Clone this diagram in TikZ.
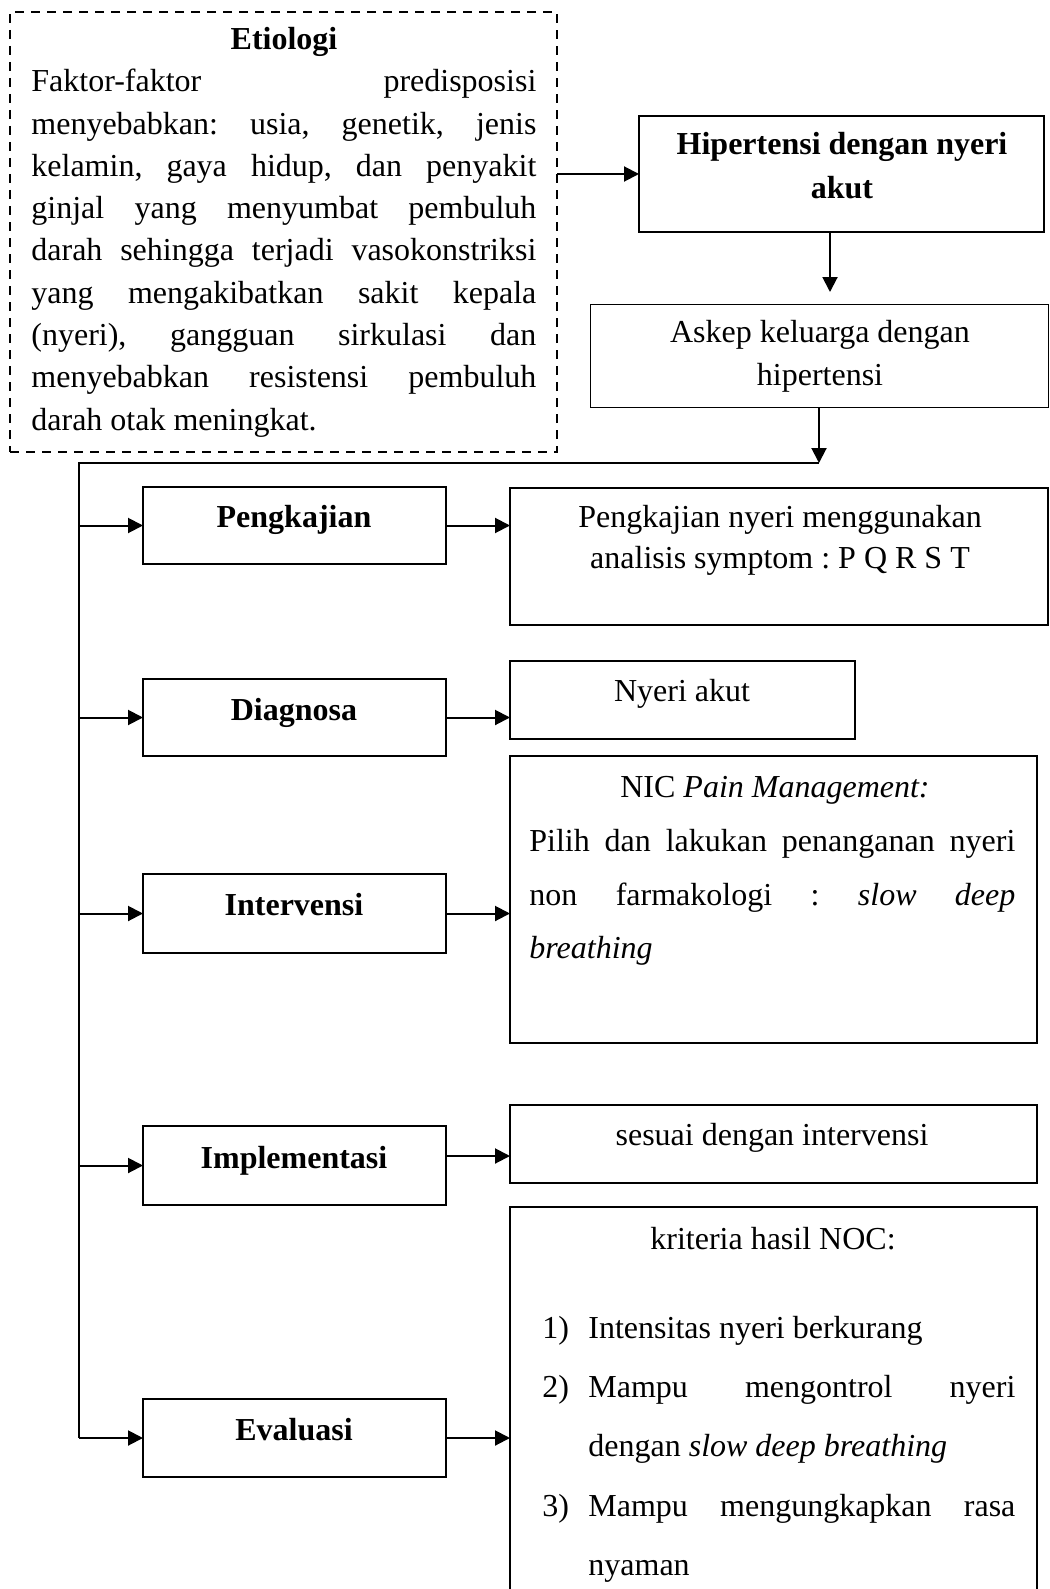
\documentclass[tikz,border=0pt]{standalone}
\usepackage{fontspec}
\setmainfont{Liberation Serif}
\usetikzlibrary{arrows.meta,calc}
\frenchspacing
\begin{document}
\begin{tikzpicture}[x=0.5pt,y=-0.5pt,
  every node/.style={font=\fontsize{16pt}{20pt}\selectfont},
  boxline/.style={draw, line width=1pt, inner sep=0pt, outer sep=0pt},
  thinbox/.style={draw, line width=0.5pt, inner sep=0pt, outer sep=0pt},
  dashbox/.style={draw, line width=1pt, dash pattern=on 4.5pt off 3.5pt, inner sep=0pt, outer sep=0pt},
  txt/.style={anchor=base, inner sep=0pt},
  txtl/.style={anchor=base west, inner sep=0pt},
  conn/.style={line width=1pt},
  arr/.style={line width=1pt, -{Triangle[length=7.5pt,width=7.5pt]}}
]
\clip (0,0) rectangle (1049,1589);
\fill[white] (0,0) rectangle (1049,1589);

% boxes
\node[dashbox, minimum width=273.5pt, minimum height=220pt] (eti) at (283.5,232) {};
\node[boxline, minimum width=202.5pt, minimum height=58pt] (hip) at (841.5,174) {};
\node[thinbox, minimum width=229pt, minimum height=51.5pt] (ask) at (819,355.5) {};
\node[boxline, minimum width=151.5pt, minimum height=38.5pt] (peng) at (294.5,525.5) {};
\node[boxline, minimum width=269pt, minimum height=68.5pt] (pt) at (779,556.5) {};
\node[boxline, minimum width=151.5pt, minimum height=38.5pt] (diag) at (294.5,717.5) {};
\node[boxline, minimum width=172.5pt, minimum height=39pt] (nyeri) at (682.5,700) {};
\node[boxline, minimum width=151.5pt, minimum height=39.5pt] (interv) at (294.5,913.5) {};
\node[boxline, minimum width=263.5pt, minimum height=143.5pt] (nic) at (773.5,899.5) {};
\node[boxline, minimum width=151.5pt, minimum height=39.5pt] (impl) at (294.5,1165.5) {};
\node[boxline, minimum width=263.5pt, minimum height=39pt] (ses) at (773.5,1144) {};
\node[boxline, minimum width=151.5pt, minimum height=39pt] (eval) at (294.5,1438) {};
\node[boxline, minimum width=263.5pt, minimum height=216.5pt] (krit) at (773.5,1423.5) {};

% Etiologi text
\node[txt] (etit) at (284,50) {\bfseries Etiologi};
\node[txtl] (e1) at (31,92) {\makebox[252.5pt][s]{Faktor-faktor predisposisi}};
\node[txtl] (e2) at (31,134.25) {\makebox[252.5pt][s]{menyebabkan: usia, genetik, jenis}};
\node[txtl] (e3) at (31,176.5) {\makebox[252.5pt][s]{kelamin, gaya hidup, dan penyakit}};
\node[txtl] (e4) at (31,218.75) {\makebox[252.5pt][s]{ginjal yang menyumbat pembuluh}};
\node[txtl] (e5) at (31,261) {\makebox[252.5pt][s]{darah sehingga terjadi vasokonstriksi}};
\node[txtl] (e6) at (31,303.25) {\makebox[252.5pt][s]{yang mengakibatkan sakit kepala}};
\node[txtl] (e7) at (31,345.5) {\makebox[252.5pt][s]{(nyeri), gangguan sirkulasi dan}};
\node[txtl] (e8) at (31,387.75) {\makebox[252.5pt][s]{menyebabkan resistensi pembuluh}};
\node[txtl] (e9) at (31,430) {darah otak meningkat.};

% Hipertensi
\node[txt] (h1) at (842,155) {\bfseries Hipertensi dengan nyeri};
\node[txt] (h2) at (842,199) {\bfseries akut};
% Askep
\node[txt] (a1) at (820,342) {Askep keluarga dengan};
\node[txt] (a2) at (820,385) {hipertensi};

% left column
\node[txt] (pengt) at (294,527) {\bfseries Pengkajian};
\node[txt] (diagt) at (294,720) {\bfseries Diagnosa};
\node[txt] (intervt) at (294,915) {\bfseries Intervensi};
\node[txt] (implt) at (294,1168) {\bfseries Implementasi};
\node[txt] (evalt) at (294,1440) {\bfseries Evaluasi};

% right column
\node[txt] (p1) at (780,527) {Pengkajian nyeri menggunakan};
\node[txt] (p2) at (780,568) {analisis symptom : P Q R S T};
\node[txt] (n1) at (682,701) {Nyeri akut};

\node[txt] (c1) at (775,797) {NIC \textit{Pain Management:}};
\node[txtl] (c2) at (529,851) {\makebox[243pt][s]{Pilih dan lakukan penanganan nyeri}};
\node[txtl] (c3) at (529,905) {\makebox[243pt][s]{non farmakologi : \textit{slow} \textit{deep}}};
\node[txtl] (c4) at (529,958) {\textit{breathing}};

\node[txt] (s1) at (772,1145) {sesuai dengan intervensi};

\node[txt] (k0) at (773,1249) {kriteria hasil NOC:};
\node[txtl] (k1n) at (542,1338) {1)};
\node[txtl] (k1) at (588,1338) {Intensitas nyeri berkurang};
\node[txtl] (k2n) at (542,1397) {2)};
\node[txtl] (k2) at (588,1397) {\makebox[213.5pt][s]{Mampu mengontrol nyeri}};
\node[txtl] (k2b) at (588,1456) {dengan \textit{slow deep breathing}};
\node[txtl] (k3n) at (542,1516) {3)};
\node[txtl] (k3) at (588,1516) {\makebox[213.5pt][s]{Mampu mengungkapkan rasa}};
\node[txtl] (k3b) at (588,1575) {nyaman};

% connectors
\draw[arr] (hip.west -| eti.east) -- (hip.west);
\draw[arr, shorten >=6pt] ([xshift=-5.75pt]hip.south) -- ([xshift=-5.75pt]hip.south |- ask.north);
\coordinate (jn) at (819,463);
\coordinate (tl) at (79,463);
\draw[arr] (ask.south) -- (jn);
\draw[conn] (jn) -- (tl) -- (tl |- eval.west);
\draw[arr] (tl |- peng.west) -- (peng.west);
\draw[arr] (tl |- diag.west) -- (diag.west);
\draw[arr] (tl |- interv.west) -- (interv.west);
\draw[arr] (tl |- impl.west) -- (impl.west);
\draw[arr] (tl |- eval.west) -- (eval.west);
\draw[arr] (peng.east) -- (peng.east -| pt.west);
\draw[arr] (diag.east) -- (diag.east -| nyeri.west);
\draw[arr] (interv.east) -- (interv.east -| nic.west);
\draw[arr] ([yshift=4.75pt]impl.east) -- ([yshift=4.75pt]impl.east -| ses.west);
\draw[arr] (eval.east) -- (eval.east -| krit.west);
\end{tikzpicture}
\end{document}
